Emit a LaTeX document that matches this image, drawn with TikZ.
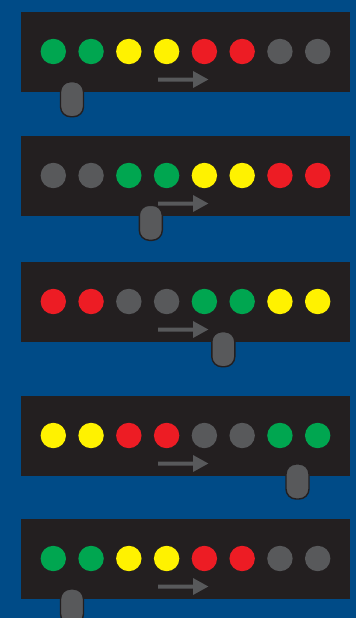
\documentclass[tikz,border=0pt]{standalone}
\definecolor{bgblue}{HTML}{004B87}
\definecolor{panel}{HTML}{231F20}
\definecolor{ledG}{HTML}{00A650}
\definecolor{ledY}{HTML}{FFF200}
\definecolor{ledR}{HTML}{ED1C24}
\definecolor{ledK}{HTML}{58595B}
\tikzset{
  panelbox/.style={fill=panel, draw=none},
  led/.style={circle, minimum size=25.4pt, inner sep=0pt, draw=none},
  knob/.style={rounded corners=10pt, fill=ledK, draw=panel, line width=1.4pt},
  dirarrow/.style={fill=ledK, draw=none}
}
\begin{document}
\begin{tikzpicture}[x=1pt,y=-1pt]
\useasboundingbox (0,0) rectangle (356,618);
\fill[bgblue] (0,0) rectangle (356,618);
\foreach \top/\seq/\kx/\ky [count=\p] in {
  12/{ledG,ledG,ledY,ledY,ledR,ledR,ledK,ledK}/72/81.7,
  136/{ledK,ledK,ledG,ledG,ledY,ledY,ledR,ledR}/150.8/205.3,
  262/{ledR,ledR,ledK,ledK,ledG,ledG,ledY,ledY}/223.3/331.7,
  396/{ledY,ledY,ledR,ledR,ledK,ledK,ledG,ledG}/297.5/464,
  519/{ledG,ledG,ledY,ledY,ledR,ledR,ledK,ledK}/72/589}{
  \path[panelbox] (21.3,\top) rectangle (350,\top+79.7);
  \foreach \c [count=\i] in \seq {
    \node[led, fill=\c] (led\p-\i) at ({53.3+37.77*(\i-1)}, \top+39.5) {};
  }
  \path[dirarrow] (158,\top+65.5) -- (193,\top+65.5) -- (193,\top+59) -- (208.3,\top+67.5)
     -- (193,\top+76) -- (193,\top+69.5) -- (158,\top+69.5) -- cycle;
  \path[knob] (\kx-11.5,\ky) rectangle (\kx+11.5,\ky+35);
}
\end{tikzpicture}
\end{document}
